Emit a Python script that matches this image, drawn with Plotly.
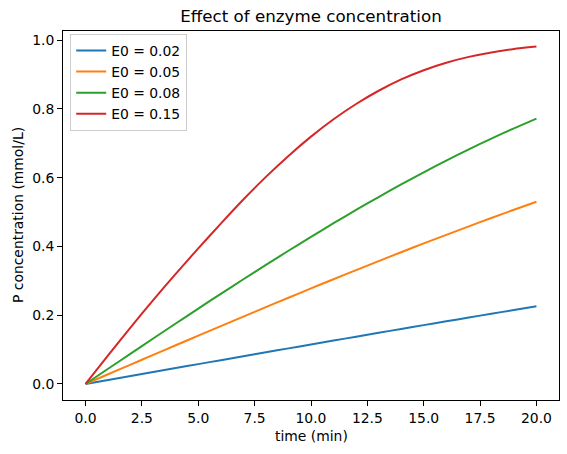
import plotly.graph_objects as go

time_min = list(range(0, 21))

p_e002 = [0.0, 0.0116, 0.0231, 0.0347, 0.0462, 0.0578, 0.0693, 0.0807, 0.0922, 0.1036, 0.1150,
          0.1263, 0.1376, 0.1489, 0.1601, 0.1712, 0.1823, 0.1933, 0.2043, 0.2152, 0.2260]
p_e005 = [0.0, 0.0282, 0.0564, 0.0846, 0.1126, 0.1406, 0.1684, 0.1961, 0.2236, 0.2509, 0.2780,
          0.3048, 0.3313, 0.3575, 0.3833, 0.4089, 0.4339, 0.4586, 0.4829, 0.5067, 0.5300]
p_e008 = [0.0, 0.0442, 0.0883, 0.1322, 0.1759, 0.2193, 0.2622, 0.3046, 0.3464, 0.3876, 0.4280,
          0.4676, 0.5062, 0.5438, 0.5804, 0.6158, 0.6499, 0.6826, 0.7140, 0.7438, 0.7720]
p_e015 = [0.0, 0.0835, 0.1650, 0.2440, 0.3205, 0.3945, 0.4665, 0.5365, 0.6025, 0.6635, 0.7195,
          0.7700, 0.8145, 0.8530, 0.8860, 0.9128, 0.9345, 0.9515, 0.9645, 0.9743, 0.9815]

series_names = ["E0 = 0.02", "E0 = 0.05", "E0 = 0.08", "E0 = 0.15"]
series_values = [p_e002, p_e005, p_e008, p_e015]
colors = ["#1f77b4", "#ff7f0e", "#2ca02c", "#d62728"]

x_ticks = [0, 2.5, 5, 7.5, 10, 12.5, 15, 17.5, 20]
x_ticktext = ["0.0", "2.5", "5.0", "7.5", "10.0", "12.5", "15.0", "17.5", "20.0"]
y_ticks = [0, 0.2, 0.4, 0.6, 0.8, 1.0]
y_ticktext = ["0.0", "0.2", "0.4", "0.6", "0.8", "1.0"]

FONT = "DejaVu Sans"
FS = 13.9

fig = go.Figure()
for name, vals, col in zip(series_names, series_values, colors):
    fig.add_trace(go.Scatter(x=time_min, y=vals, mode="lines", name=name,
                             line=dict(color=col, width=2.0, shape="spline", smoothing=0.6)))

axis_common = dict(showline=True, mirror=True, linecolor="black", linewidth=1,
                   ticks="outside", ticklen=5, tickwidth=1, tickcolor="black",
                   showgrid=False, zeroline=False,
                   tickfont=dict(family=FONT, size=FS, color="black"))

fig.update_layout(
    width=567, height=454,
    margin=dict(l=63, r=8, t=31, b=54),
    paper_bgcolor="white", plot_bgcolor="white",
    font=dict(family=FONT, size=FS, color="black"),
    title=dict(text="Effect of enzyme concentration", x=0.5, xref="paper", xanchor="center",
               y=1 - 16 / 454, yref="container", yanchor="middle",
               font=dict(family=FONT, size=16.7, color="black")),
    xaxis=dict(range=[-1, 21], tickvals=x_ticks, ticktext=x_ticktext, **axis_common),
    yaxis=dict(range=[-0.0466, 1.0268], tickvals=y_ticks, ticktext=y_ticktext, **axis_common),
    showlegend=True,
    legend=dict(x=0.0145, y=0.992, xanchor="left", yanchor="top",
                bgcolor="rgba(255,255,255,0.8)", bordercolor="#cccccc", borderwidth=1,
                font=dict(family=FONT, size=FS, color="black"),
                itemwidth=30, tracegroupgap=0),
    annotations=[
        dict(text="time (min)", xref="paper", yref="paper", x=0.5,
             y=-(436 - 400) / 368.7, xanchor="center", yanchor="middle", showarrow=False,
             font=dict(family=FONT, size=FS, color="black")),
        dict(text="P concentration (mmol/L)", xref="paper", yref="paper",
             x=-(62.5 - 17) / 496.2, y=0.5, xanchor="center", yanchor="middle",
             textangle=-90, showarrow=False,
             font=dict(family=FONT, size=FS, color="black")),
    ],
)

fig.write_html("out.html")
